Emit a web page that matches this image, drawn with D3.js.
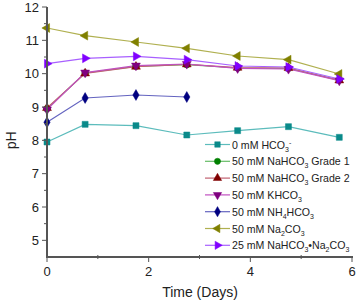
<!DOCTYPE html>
<html>
<head>
<meta charset="utf-8">
<script src="https://cdn.jsdelivr.net/npm/d3@7"></script>
<style>
  body { margin: 0; background: #fff; }
  svg text { font-family: "Liberation Sans", Arial, sans-serif; }
</style>
</head>
<body>
<div id="chart"></div>
<script>
const days = [0, 0.75, 1.75, 2.75, 3.75, 4.75, 5.75];
const hco3_0 = [7.95, 8.48, 8.44, 8.16, 8.29, 8.41, 8.09];
const nahco3_g1 = [8.95, 10.02, 10.22, 10.27, 10.17, 10.16, 9.81];
const nahco3_g2 = [8.97, 10.01, 10.21, 10.28, 10.18, 10.17, 9.80];
const khco3 = [8.92, 10.03, 10.24, 10.29, 10.16, 10.14, 9.79];
const nh4hco3 = [8.54, 9.27, 9.36, 9.30];
const na2co3 = [11.37, 11.14, 10.95, 10.76, 10.53, 10.42, 9.99];
const mix = [10.30, 10.46, 10.52, 10.42, 10.23, 10.20, 9.84];
const xTicks = [0, 2, 4, 6];
const yTicks = [5, 6, 7, 8, 9, 10, 11, 12];

// name pieces come in threes: normal, subscript, superscript
const series = [
  { name: ["0 mM HCO", "3", "-"], values: hco3_0, color: "#0a8a8a", line: "#5cbcbc", shape: "square" },
  { name: ["50 mM NaHCO", "3", "", " Grade 1"], values: nahco3_g1, color: "#008000", line: "#66bb66", shape: "circle" },
  { name: ["50 mM NaHCO", "3", "", " Grade 2"], values: nahco3_g2, color: "#800000", line: "#c06070", shape: "up" },
  { name: ["50 mM KHCO", "3", ""], values: khco3, color: "#800080", line: "#c050c0", shape: "down" },
  { name: ["50 mM NH", "4", "", "HCO", "3"], values: nh4hco3, color: "#000080", line: "#6464c0", shape: "diamond" },
  { name: ["50 mM Na", "2", "", "CO", "3"], values: na2co3, color: "#808000", line: "#b0b050", shape: "left" },
  { name: ["25 mM NaHCO", "3", "", "\u2022Na", "2", "", "CO", "3"], values: mix, color: "#8000ff", line: "#a860ff", shape: "right" }
];

const width = 358, height = 306;
const margin = { top: 7, right: 5, bottom: 49, left: 47 };

const x = d3.scaleLinear().domain([0, 6]).range([margin.left, 352]);
const y = d3.scaleLinear().domain([4.5, 12]).range([height - margin.bottom, margin.top]);

const svg = d3.select("#chart").append("svg")
  .attr("width", width)
  .attr("height", height);

function marker(g, shape, color, size) {
  let rot = 0, type = d3.symbolTriangle;
  if (shape === "square") type = d3.symbolSquare;
  if (shape === "circle") type = d3.symbolCircle;
  if (shape === "diamond") type = d3.symbolDiamond;
  if (shape === "down") rot = 180;
  if (shape === "left") rot = -90;
  if (shape === "right") rot = 90;
  g.append("path")
    .attr("d", d3.symbol().type(type).size(size))
    .attr("transform", `rotate(${rot})`)
    .attr("fill", color)
    .attr("stroke", color)
    .attr("stroke-width", 0.5);
}

// lines
const line = d3.line().x((d, i) => x(days[i])).y(d => y(d));
series.forEach(s => {
  svg.append("path")
    .datum(s.values)
    .attr("fill", "none")
    .attr("stroke", s.line)
    .attr("stroke-width", 1.2)
    .attr("d", line);
});
// markers
series.forEach(s => {
  s.values.forEach((v, i) => {
    const g = svg.append("g").attr("transform", `translate(${x(days[i])},${y(v)})`);
    marker(g, s.shape, s.color, s.shape === "square" ? 36 : 34);
  });
});

// axes
const axisColor = "#555";
const xAxis = svg.append("g").attr("transform", `translate(0,${y(4.5)})`);
xAxis.append("line").attr("x1", x(0) - 1).attr("x2", x(6) + 1)
  .attr("stroke", axisColor).attr("stroke-width", 2);
[1, 3, 5].forEach(t => xAxis.append("line").attr("x1", x(t)).attr("x2", x(t))
  .attr("y1", -2).attr("y2", 2).attr("stroke", axisColor).attr("stroke-width", 1));
xTicks.forEach(t => {
  xAxis.append("line").attr("x1", x(t)).attr("x2", x(t)).attr("y1", 0).attr("y2", 5)
    .attr("stroke", axisColor).attr("stroke-width", 1);
  xAxis.append("text").attr("x", x(t)).attr("y", 19).attr("text-anchor", "middle")
    .attr("font-size", 13).attr("fill", "#222").text(t);
});

const yAxis = svg.append("g").attr("transform", `translate(${x(0)},0)`);
yAxis.append("line").attr("y1", y(4.5) + 1).attr("y2", y(12))
  .attr("stroke", axisColor).attr("stroke-width", 2);
d3.range(5.5, 12, 1).forEach(t => yAxis.append("line").attr("x1", -3).attr("x2", 0)
  .attr("y1", y(t)).attr("y2", y(t)).attr("stroke", axisColor).attr("stroke-width", 1));
yTicks.forEach(t => {
  yAxis.append("line").attr("x1", -5).attr("x2", 0).attr("y1", y(t)).attr("y2", y(t))
    .attr("stroke", axisColor).attr("stroke-width", 1);
  yAxis.append("text").attr("x", -8).attr("y", y(t)).attr("dy", "0.35em")
    .attr("text-anchor", "end").attr("font-size", 13).attr("fill", "#222").text(t);
});

// axis titles
svg.append("text")
  .attr("transform", `translate(16,${y(8)}) rotate(-90)`)
  .attr("text-anchor", "middle").attr("font-size", 14).attr("fill", "#222")
  .text("pH");
svg.append("text")
  .attr("x", 200).attr("y", 297).attr("text-anchor", "middle")
  .attr("font-size", 14).attr("fill", "#222")
  .text("Time (Days)");

// legend
const legend = svg.append("g");
series.forEach((s, i) => {
  const ly = 144.5 + i * 16.8;
  const g = legend.append("g").attr("transform", `translate(0,${ly})`);
  g.append("line").attr("x1", 205).attr("x2", 230).attr("stroke", s.line).attr("stroke-width", 1.2);
  const m = g.append("g").attr("transform", "translate(217.5,0)");
  marker(m, s.shape, s.color, 30);
  const t = g.append("text").attr("x", 232).attr("y", 4)
    .attr("font-size", 10.6).attr("fill", "#222");
  let shift = 0; // current baseline offset
  s.name.forEach((p, k) => {
    if (!p) return;
    const mod = k % 3;
    const target = mod === 1 ? 3 : mod === 2 ? -4 : 0;
    const ts = t.append("tspan").text(p).attr("dy", target - shift);
    if (mod !== 0) ts.attr("font-size", 7);
    shift = target;
  });
});
</script>
</body>
</html>
